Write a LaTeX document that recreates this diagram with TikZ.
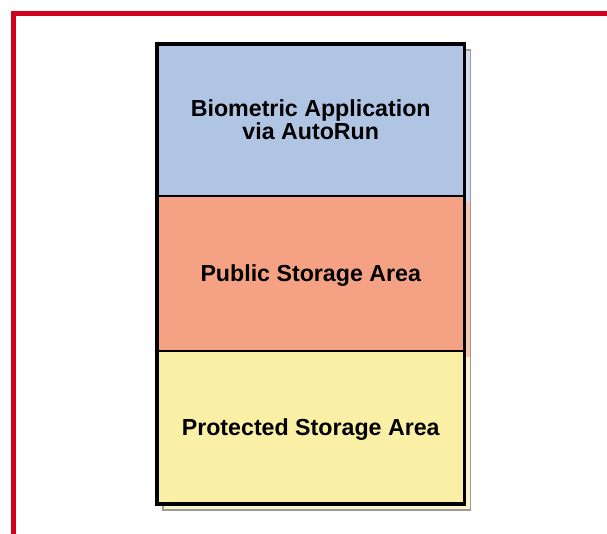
\documentclass[tikz,border=0pt]{standalone}
\usepackage{fontspec}
\setmainfont{Liberation Sans}
\definecolor{frameRed}{HTML}{D0021B}
\definecolor{blueFill}{HTML}{B0C5E4}
\definecolor{salmonFill}{HTML}{F4A283}
\definecolor{yellowFill}{HTML}{F9EFA5}
\definecolor{blueShade}{HTML}{D0DCEF}
\definecolor{salmonShade}{HTML}{F8C6B2}
\definecolor{yellowShade}{HTML}{FBF4C8}
\definecolor{shadeLine}{HTML}{9A9A9A}
\tikzset{
  layer/.style={draw=none, minimum width=307.5pt, inner sep=0pt, outer sep=0pt, align=center,
    anchor=north west, text depth=0pt, font=\fontsize{23.2}{25}\selectfont\bfseries},
  shade/.style={draw=shadeLine, line width=1.5pt}
}
\begin{document}
\begin{tikzpicture}[x=1pt,y=-1pt]
\useasboundingbox (0,0) rectangle (607,533);
% red frame
\draw[frameRed, line width=5pt] (13.5,540) -- (13.5,13.5) -- (612,13.5);
% shadow
\fill[blueShade] (163,50) rectangle (470.5,202);
\fill[salmonShade] (163,202) rectangle (470.5,357);
\fill[yellowShade] (163,357) rectangle (470.5,510);
\draw[shade] (163,50) rectangle (470.5,510);
% layers
\node[layer, fill=blueFill, minimum height=152pt] (app) at (157,44)
  {Biometric Application\\[-2pt]via AutoRun};
\node[layer, fill=salmonFill, minimum height=155pt] (pub) at (157,196)
  {Public Storage Area};
\node[layer, fill=yellowFill, minimum height=153pt] (prot) at (157,351)
  {Protected Storage Area};
\draw[line width=2.2pt] (app.south west) -- (app.south east);
\draw[line width=2.2pt] (pub.south west) -- (pub.south east);
\draw[line width=3.5pt, line join=miter] (app.north west) rectangle (prot.south east);
\end{tikzpicture}
\end{document}
